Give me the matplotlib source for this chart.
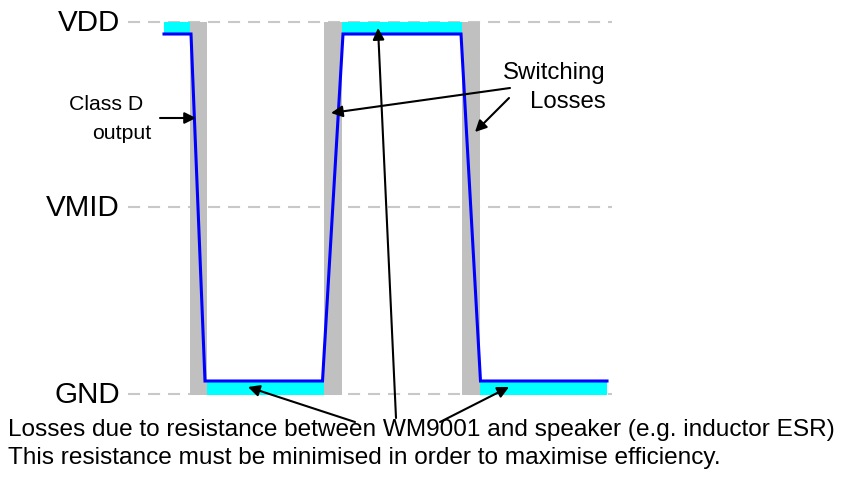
import matplotlib
matplotlib.use("Agg")
import matplotlib.pyplot as plt
import matplotlib.patches as patches

plt.rcParams['font.family'] = ['Liberation Sans', 'DejaVu Sans']

# Rail levels (vertical pixel position on the drawing)
level_names = ["VDD", "VMID", "GND"]
level_y = [22, 207, 394]

# Class D output waveform (corner points)
wave_x = [164, 191, 205, 322.5, 343, 461, 480.5, 607]
wave_y = [34, 34, 381, 381, 34, 34, 381, 381]

# Switching-loss regions (x start, x end)
switch_regions = [(190, 207.5), (324, 342), (462, 480)]

# Conduction (ESR) loss regions: (x start, x end, y top, y bottom)
esr_regions = [(164, 190, 22, 34), (342, 462, 22, 34),
               (207.5, 324, 381, 395), (480, 607, 381, 395)]

note_lines = ["Losses due to resistance between WM9001 and speaker (e.g. inductor ESR)",
              "This resistance must be minimised in order to maximise efficiency."]

colors = {'gray': '#c0c0c0', 'cyan': '#00ffff', 'blue': '#0000ff', 'dash': '#c8c8c8'}


def draw():
    fig = plt.figure(figsize=(8.41, 4.79), dpi=100)
    ax = fig.add_axes([0, 0, 1, 1])
    ax.set_xlim(0, 841)
    ax.set_ylim(479, 0)
    ax.axis('off')

    # dashed rails + labels
    for name, y in zip(level_names, level_y):
        ax.plot([128, 612], [y, y], color=colors['dash'], lw=1.5,
                linestyle=(0, (5.8, 3.8)), zorder=1)
        ax.text(120, y + 9, name, ha='right', va='baseline', fontsize=21.3, color='black')

    # switching loss bars
    for x0, x1 in switch_regions:
        ax.add_patch(patches.Rectangle((x0, level_y[0]), x1 - x0, 395 - level_y[0],
                                       facecolor=colors['gray'], edgecolor='none', zorder=2))

    # ESR loss regions
    for x0, x1, y0, y1 in esr_regions:
        ax.add_patch(patches.Rectangle((x0, y0), x1 - x0, y1 - y0,
                                       facecolor=colors['cyan'], edgecolor='none', zorder=2))

    # waveform
    ax.plot(wave_x, wave_y, color=colors['blue'], lw=2.2, zorder=3, solid_joinstyle='miter')

    # labels
    ax.text(143, 110, "Class D", ha='right', va='baseline', fontsize=15.3)
    ax.text(151, 139, "output", ha='right', va='baseline', fontsize=15.3)
    ax.text(606, 79, "Switching", ha='right', va='baseline', fontsize=17.3)
    ax.text(606, 108, "Losses", ha='right', va='baseline', fontsize=17.3)
    ax.text(8, 436, note_lines[0], ha='left', va='baseline', fontsize=17.6)
    ax.text(8, 464, note_lines[1], ha='left', va='baseline', fontsize=17.6)

    # arrows
    arrow_common = dict(arrowstyle="-|>", lw=1.5, color='black', mutation_scale=17,
                        shrinkA=0, shrinkB=0)

    def draw_arrow(start, end):
        ax.annotate("", xy=end, xytext=start, arrowprops=dict(**arrow_common), zorder=4)

    draw_arrow((160, 118), (196, 118))
    draw_arrow((510, 88), (331, 113))
    draw_arrow((509, 98), (475, 132))
    draw_arrow((355, 422), (248, 387))
    draw_arrow((396, 418), (378, 28))
    draw_arrow((440, 422), (509, 387))

    fig.savefig('out.png', dpi=100)


if __name__ == "__main__":
    draw()
